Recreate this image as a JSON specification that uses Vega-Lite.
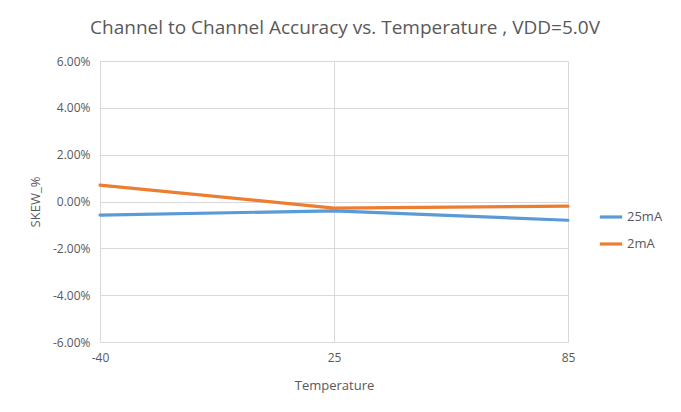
{
  "$schema": "https://vega.github.io/schema/vega-lite/v6.json",
  "width": 468,
  "height": 281,
  "autosize": {"type": "none"},
  "padding": {"left": 100, "top": 61, "right": 113, "bottom": 70},
  "background": "white",
  "title": {
    "text": "Channel to Channel Accuracy vs. Temperature , VDD=5.0V",
    "font": "Open Sans",
    "fontSize": 19,
    "fontWeight": "normal",
    "color": "#595959",
    "anchor": "middle",
    "dx": 11,
    "offset": 17
  },
  "data": {
    "values": [
      {"Temperature": -40, "series": "25mA", "skew": -0.0058},
      {"Temperature": 25, "series": "25mA", "skew": -0.004},
      {"Temperature": 85, "series": "25mA", "skew": -0.008},
      {"Temperature": -40, "series": "2mA", "skew": 0.007},
      {"Temperature": 25, "series": "2mA", "skew": -0.0028},
      {"Temperature": 85, "series": "2mA", "skew": -0.002}
    ]
  },
  "config": {
    "view": {"stroke": null},
    "font": "Open Sans"
  },
  "mark": {"type": "line", "strokeWidth": 3.2, "strokeCap": "round"},
  "encoding": {
    "x": {
      "field": "Temperature",
      "type": "ordinal",
      "scale": {"type": "point", "padding": 0},
      "axis": {
        "title": "Temperature",
        "titleFont": "Open Sans",
        "titleFontSize": 13,
        "titleFontWeight": "normal",
        "titleColor": "#595959",
        "titlePadding": 16,
        "labelAngle": 0,
        "labelFontSize": 12,
        "labelColor": "#595959",
        "labelPadding": 10,
        "labelExpr": "replace(datum.label, '\u2212', '-')",
        "ticks": false,
        "domain": false,
        "grid": true,
        "gridColor": "#d9d9d9",
        "gridWidth": 1
      }
    },
    "y": {
      "field": "skew",
      "type": "quantitative",
      "scale": {"domain": [-0.06, 0.06], "nice": false},
      "axis": {
        "title": "SKEW_%",
        "titleFont": "Open Sans",
        "titleFontSize": 13,
        "titleFontWeight": "normal",
        "titleColor": "#595959",
        "titlePadding": 10,
        "values": [-0.06, -0.04, -0.02, 0, 0.02, 0.04, 0.06],
        "labelExpr": "replace(format(datum.value, '.2%'), '\u2212', '-')",
        "labelFontSize": 12,
        "labelColor": "#595959",
        "labelPadding": 10,
        "ticks": false,
        "domain": false,
        "grid": true,
        "gridColor": "#d9d9d9",
        "gridWidth": 1
      }
    },
    "color": {
      "field": "series",
      "type": "nominal",
      "scale": {"domain": ["25mA", "2mA"], "range": ["#5B9BD5", "#ED7D31"]},
      "legend": {
        "title": null,
        "orient": "none",
        "legendX": 498,
        "legendY": 143,
        "symbolType": "stroke",
        "symbolStrokeWidth": 3.2,
        "symbolSize": 500,
        "labelFontSize": 13,
        "labelColor": "#595959",
        "rowPadding": 7,
        "labelOffset": 3
      }
    }
  }
}
